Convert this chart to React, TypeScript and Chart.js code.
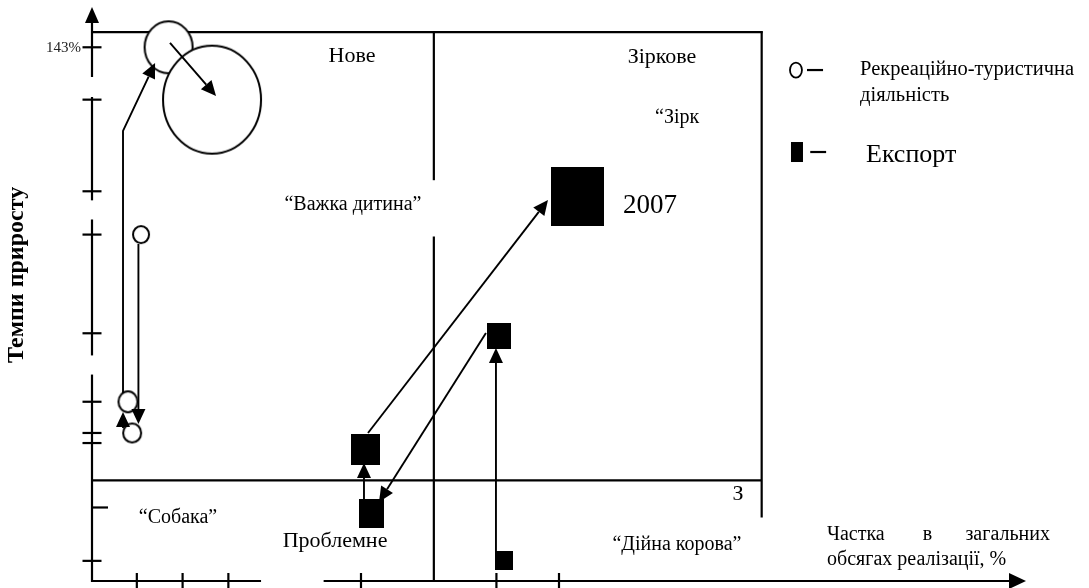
import React, { useEffect, useRef } from "react";
import { Chart, registerables } from "chart.js";

Chart.register(...registerables);

// ---- data (share of sales, %; growth rate, %) ----
const tourismShare = [8.2, 12.85, 5.25, 3.85, 4.3];
const tourismGrowth = [143.0, 137.8, 124.4, 107.8, 104.7];
const exportShare = [29.3, 29.9, 43.6, 52.0, 44.1];
const exportGrowth = [103.1, 96.75, 114.3, 128.2, 92.0];

// axis ticks
const growthTicks = [143, 137.8, 128.7, 124.4, 114.6, 107.8, 104.7, 103.7, 97.3, 92.0];
const growthTickLabels = ["143%", "", "", "", "", "", "", "", "", ""];
const shareTicks = [4.8, 9.7, 14.6, 28.8, 43.3, 50.0];

// quadrant boundaries
const growthSplit = 100;
const growthTop = 144.5;
const shareSplit = 36.6;
const shareRight = 71.7;

// movement arrows (paths of [share, growth])
const tourismArrows = [
  [[3.32, 108.67], [3.32, 134.69], [6.75, 141.44]],
  [[8.35, 143.43], [13.28, 138.16]],
  [[4.97, 123.47], [4.97, 105.59]],
  [[3.32, 105.2], [3.32, 106.78]],
];
const exportArrows = [
  [[29.12, 98.14], [29.12, 101.72]],
  [[29.55, 104.7], [48.82, 127.84]],
  [[42.18, 114.63], [30.73, 97.85]],
  [[43.25, 92.88], [43.25, 113.14]],
];

// ---- styles ----
const tourismRx = [24, 49, 8, 9.5, 9];
const tourismRy = [26, 54, 8.5, 10.5, 9.5];
const exportW = [29, 25, 24, 53, 17.5];
const exportH = [31, 29, 26, 59, 19];

const SERIF = '"Liberation Serif", "Times New Roman", serif';

type Label = { t: string; x: number; y: number; size: number; align: CanvasTextAlign; bold?: boolean; rot?: boolean };
const labels: Label[] = [
  { t: "Нове", x: 27.84, y: 141.54, size: 22, align: "center" },
  { t: "Зіркове", x: 61.03, y: 141.44, size: 22, align: "center" },
  { t: "“Зірк", x: 60.28, y: 135.48, size: 20, align: "left" },
  { t: "“Важка дитина”", x: 27.94, y: 126.84, size: 20, align: "center" },
  { t: "2007", x: 56.85, y: 126.54, size: 27, align: "left" },
  { t: "“Собака”", x: 9.21, y: 95.76, size: 20, align: "center" },
  { t: "Проблемне", x: 26.02, y: 93.38, size: 22, align: "center" },
  { t: "З", x: 69.16, y: 98.04, size: 22, align: "center" },
  { t: "“Дійна корова”", x: 62.63, y: 93.08, size: 20, align: "center" },
  { t: "Частка", x: 78.69, y: 94.07, size: 20, align: "left" },
  { t: "в", x: 89.45, y: 94.07, size: 20, align: "center" },
  { t: "загальних", x: 102.57, y: 94.07, size: 20, align: "right" },
  { t: "обсягах реалізації, %", x: 78.69, y: 91.59, size: 20, align: "left" },
  { t: "Рекреаційно-туристична", x: 82.23, y: 140.25, size: 20.5, align: "left" },
  { t: "діяльність", x: 82.23, y: 137.67, size: 20.5, align: "left" },
  { t: "Експорт", x: 82.87, y: 131.6, size: 26, align: "left" },
  { t: "Темпи приросту", x: -8.03, y: 120.39, size: 24, align: "center", bold: true, rot: true },
];

const legendCircle = { x: 75.37, y: 140.74, rx: 6, ry: 7.5, dash: [76.55, 78.27] };
const legendSquare = { x: 75.48, y: 132.6, w: 12, h: 20, dash: [76.9, 78.6] };

function ellipseImage(rx: number, ry: number, lw: number) {
  const c = document.createElement("canvas");
  c.width = Math.ceil(rx * 2 + lw * 2 + 2);
  c.height = Math.ceil(ry * 2 + lw * 2 + 2);
  const g = c.getContext("2d")!;
  g.beginPath();
  g.ellipse(c.width / 2, c.height / 2, rx, ry, 0, 0, Math.PI * 2);
  g.fillStyle = "#fff";
  g.fill();
  g.lineWidth = lw;
  g.strokeStyle = "#000";
  g.stroke();
  return c;
}
function rectImage(w: number, h: number) {
  const c = document.createElement("canvas");
  c.width = Math.round(w);
  c.height = Math.round(h);
  const g = c.getContext("2d")!;
  g.fillStyle = "#000";
  g.fillRect(0, 0, c.width, c.height);
  return c;
}

function arrowPath(ctx: CanvasRenderingContext2D, pts: number[][], len: number, half: number, lw: number) {
  const n = pts.length;
  const [tx, ty] = pts[n - 1];
  const [fx, fy] = pts[n - 2];
  const d = Math.hypot(tx - fx, ty - fy) || 1;
  const ux = (tx - fx) / d, uy = (ty - fy) / d;
  const bx = tx - ux * len, by = ty - uy * len;
  ctx.lineWidth = lw;
  ctx.strokeStyle = "#000";
  ctx.beginPath();
  ctx.moveTo(pts[0][0], pts[0][1]);
  for (let i = 1; i < n - 1; i++) ctx.lineTo(pts[i][0], pts[i][1]);
  ctx.lineTo(bx, by);
  ctx.stroke();
  ctx.fillStyle = "#000";
  ctx.beginPath();
  ctx.moveTo(tx, ty);
  ctx.lineTo(bx - uy * half, by + ux * half);
  ctx.lineTo(bx + uy * half, by - ux * half);
  ctx.closePath();
  ctx.fill();
}

function segmentsWithGaps(a: number, b: number, gaps: number[][]) {
  const lo = Math.min(a, b), hi = Math.max(a, b);
  const segs: number[][] = [];
  let cur = lo;
  [...gaps].sort((p, q) => p[0] - q[0]).forEach(([g0, g1]) => {
    if (g0 > cur) segs.push([cur, g0]);
    cur = Math.max(cur, g1);
  });
  if (cur < hi) segs.push([cur, hi]);
  return segs;
}

const yAxisGaps = [[138.06, 140.05], [125.9, 127.8], [110.5, 112.4]];
const xAxisGaps = [[18.1, 24.8]];
const splitLineGaps = [[124.2, 129.8]];
const rightEdgeBottom = 96.3;

const matrixPlugin = {
  id: "bcgMatrix",
  beforeDatasetsDraw(chart: any) {
    const ctx: CanvasRenderingContext2D = chart.ctx;
    const xs = chart.scales.x, ys = chart.scales.y;
    const X = (v: number) => xs.getPixelForValue(v);
    const Y = (v: number) => ys.getPixelForValue(v);
    ctx.save();
    ctx.strokeStyle = "#000";
    ctx.lineCap = "butt";
    const line = (x0: number, y0: number, x1: number, y1: number, lw: number) => {
      ctx.lineWidth = lw;
      ctx.beginPath();
      ctx.moveTo(x0, y0);
      ctx.lineTo(x1, y1);
      ctx.stroke();
    };
    const x0 = X(0), y0 = Y(ys.min);
    // quadrant box
    line(x0, Y(growthTop), X(shareRight) + 1, Y(growthTop), 2.2);
    line(x0, Y(growthSplit), X(shareRight), Y(growthSplit), 2.2);
    line(X(shareRight), Y(growthTop) - 1, X(shareRight), Y(rightEdgeBottom), 2.2);
    segmentsWithGaps(ys.min, growthTop, splitLineGaps).forEach(([a, b]) => line(X(shareSplit), Y(a), X(shareSplit), Y(b), 2.2));
    // y axis with breaks
    const yTip = Y(ys.max);
    segmentsWithGaps(ys.min, ys.max - 1.2, yAxisGaps).forEach(([a, b]) => line(x0, Y(a) + (a === ys.min ? 1 : 0), x0, Y(b), 2.2));
    // x axis with breaks
    const xTipV = xs.max;
    segmentsWithGaps(0, xTipV - 1.3, xAxisGaps).forEach(([a, b]) => line(X(a) - (a === 0 ? 1 : 0), y0, X(b), y0, 2.2));
    // arrow heads of axes
    ctx.fillStyle = "#000";
    ctx.beginPath();
    ctx.moveTo(x0, yTip);
    ctx.lineTo(x0 - 7, yTip + 16);
    ctx.lineTo(x0 + 7, yTip + 16);
    ctx.closePath();
    ctx.fill();
    const xTip = X(xTipV);
    ctx.beginPath();
    ctx.moveTo(xTip, y0);
    ctx.lineTo(xTip - 17, y0 - 8);
    ctx.lineTo(xTip - 17, y0 + 8);
    ctx.closePath();
    ctx.fill();
    // ticks
    growthTicks.forEach((v, i) => {
      const py = Y(v);
      const shortTick = v > 95 && v < 100;
      line(shortTick ? x0 - 1 : x0 - 9.5, py, shortTick ? x0 + 16 : x0 + 9.5, py, 2.2);
      if (growthTickLabels[i]) {
        ctx.font = `15px ${SERIF}`;
        ctx.fillStyle = "#222";
        ctx.textAlign = "right";
        ctx.textBaseline = "alphabetic";
        ctx.fillText(growthTickLabels[i], x0 - 11, py + 5);
      }
    });
    shareTicks.forEach((v) => line(X(v), y0 - 8, X(v), y0 + 9, 2.2));
    ctx.restore();
  },
  afterDatasetsDraw(chart: any) {
    const ctx: CanvasRenderingContext2D = chart.ctx;
    const xs = chart.scales.x, ys = chart.scales.y;
    const P = (p: number[]) => [xs.getPixelForValue(p[0]), ys.getPixelForValue(p[1])];
    ctx.save();
    tourismArrows.forEach((path) => arrowPath(ctx, path.map(P), 15, 7, 1.9));
    exportArrows.forEach((path) => arrowPath(ctx, path.map(P), 15, 7, 1.9));
    // labels
    ctx.fillStyle = "#000";
    labels.forEach((l) => {
      const [x, y] = P([l.x, l.y]);
      ctx.save();
      ctx.font = `${l.bold ? "bold " : ""}${l.size}px ${SERIF}`;
      ctx.textAlign = l.align;
      ctx.textBaseline = l.rot ? "middle" : "alphabetic";
      ctx.translate(x, y);
      if (l.rot) ctx.rotate(-Math.PI / 2);
      ctx.fillText(l.t, 0, 0);
      ctx.restore();
    });
    // legend symbols
    const [cx, cy] = P([legendCircle.x, legendCircle.y]);
    ctx.lineWidth = 1.8;
    ctx.strokeStyle = "#000";
    ctx.beginPath();
    ctx.ellipse(cx, cy, legendCircle.rx, legendCircle.ry, 0, 0, Math.PI * 2);
    ctx.stroke();
    const [d0x] = P([legendCircle.dash[0], 0]);
    const [d1x] = P([legendCircle.dash[1], 0]);
    ctx.lineWidth = 2.2;
    ctx.beginPath();
    ctx.moveTo(d0x, cy);
    ctx.lineTo(d1x, cy);
    ctx.stroke();
    const [sx, sy] = P([legendSquare.x, legendSquare.y]);
    ctx.fillRect(sx - legendSquare.w / 2, sy - legendSquare.h / 2, legendSquare.w, legendSquare.h);
    const [e0x] = P([legendSquare.dash[0], 0]);
    const [e1x] = P([legendSquare.dash[1], 0]);
    ctx.beginPath();
    ctx.moveTo(e0x, sy);
    ctx.lineTo(e1x, sy);
    ctx.stroke();
    ctx.restore();
  },
};

export default function App() {
  const ref = useRef<HTMLCanvasElement>(null);
  useEffect(() => {
    document.body.style.margin = "0";
    const canvas = ref.current!;
    const chart = new Chart(canvas, {
      type: "scatter",
      data: {
        datasets: [
          {
            label: "Рекреаційно-туристична діяльність",
            data: tourismShare.map((x, i) => ({ x, y: tourismGrowth[i] })),
            pointStyle: tourismRx.map((rx, i) => ellipseImage(rx, tourismRy[i], 2)) as any,
            pointRadius: 5,
          },
          {
            label: "Експорт",
            data: exportShare.map((x, i) => ({ x, y: exportGrowth[i] })),
            pointStyle: exportW.map((w, i) => rectImage(w, exportH[i])) as any,
            pointRadius: 5,
          },
        ],
      },
      options: {
        responsive: false,
        animation: false,
        events: [],
        layout: { padding: { left: 92, right: 63, top: 7, bottom: 7 } },
        plugins: { legend: { display: false }, tooltip: { enabled: false }, title: { display: false } },
        scales: {
          x: { type: "linear", min: 0, max: 100, display: false },
          y: { type: "linear", min: 90, max: 147, display: false },
        },
      },
      plugins: [matrixPlugin],
    });
    return () => chart.destroy();
  }, []);
  return <canvas ref={ref} width={1089} height={588} style={{ display: "block" }} />;
}
